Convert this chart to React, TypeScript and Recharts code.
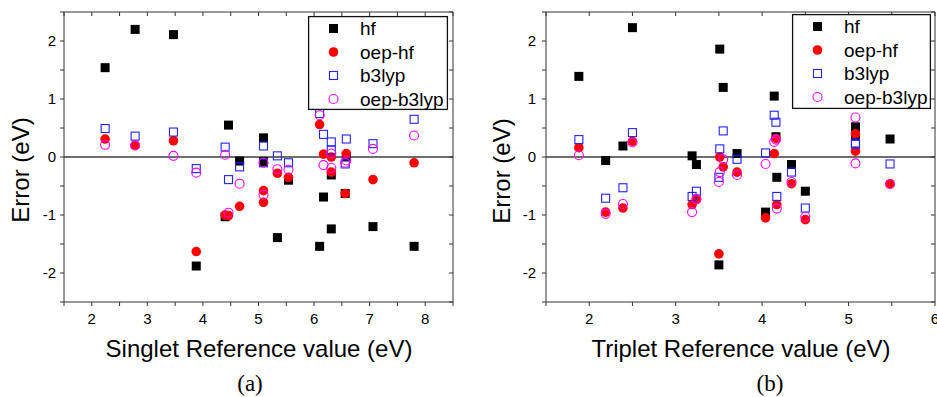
import { ScatterChart, Scatter, XAxis, YAxis, ReferenceLine } from 'recharts';

// singlet panel (a)
const singletRef = [2.24, 2.78, 3.47, 3.88, 4.4, 4.46, 4.66, 5.09, 5.09, 5.34, 5.54, 6.1, 6.17, 6.31, 6.31, 6.56, 6.58, 7.06, 7.8];
const singletHf = [1.54, 2.2, 2.11, -1.88, -1.03, 0.55, -0.07, 0.33, -0.08, -1.39, -0.4, -1.54, -0.69, -1.24, -0.31, -0.63, 0.0, -1.2, -1.54];
const singletOepHf = [0.31, 0.2, 0.28, -1.63, -1.0, -1.01, -0.85, -0.58, -0.78, -0.28, -0.35, 0.56, 0.05, 0.0, -0.26, -0.63, 0.06, -0.39, -0.1];
const singletB3lyp = [0.49, 0.36, 0.43, -0.2, 0.17, -0.39, -0.17, 0.19, -0.1, 0.02, -0.1, 0.75, 0.39, 0.26, 0.12, -0.12, 0.31, 0.23, 0.65];
const singletOepB3lyp = [0.21, 0.2, 0.02, -0.27, 0.04, -0.96, -0.46, -0.65, -0.1, -0.21, -0.22, 0.72, -0.14, 0.06, -0.19, -0.1, -0.06, 0.14, 0.37];

// triplet panel (b)
const tripletRef = [1.88, 2.19, 2.39, 2.5, 3.19, 3.24, 3.5, 3.51, 3.55, 3.71, 4.04, 4.14, 4.16, 4.17, 4.34, 4.5, 5.08, 5.08, 5.48];
const tripletHf = [1.39, -0.06, 0.19, 2.23, 0.02, -0.13, -1.86, 1.86, 1.2, 0.06, -0.95, 1.05, 0.35, -0.35, -0.13, -0.59, 0.52, 0.36, 0.31];
const tripletOepHf = [0.16, -0.95, -0.88, 0.27, -0.82, -0.72, -1.67, 0.0, -0.17, -0.26, -1.05, 0.06, 0.32, -0.82, -0.46, -1.08, 0.4, 0.1, -0.46];
const tripletB3lyp = [0.3, -0.71, -0.53, 0.42, -0.68, -0.59, -0.35, 0.14, 0.45, -0.04, 0.07, 0.72, 0.6, -0.68, -0.26, -0.88, 0.24, 0.22, -0.12];
const tripletOepB3lyp = [0.03, -0.98, -0.81, 0.25, -0.95, -0.73, -0.43, -0.26, -0.04, -0.31, -0.12, 0.26, 0.3, -0.89, -0.43, -1.03, 0.68, -0.11, -0.47];

const singletTicksX = [1.5, 2, 2.5, 3, 3.5, 4, 4.5, 5, 5.5, 6, 6.5, 7, 7.5, 8, 8.5];
const tripletTicksX = [1.5, 2, 2.5, 3, 3.5, 4, 4.5, 5, 5.5, 6];
const ticksY = [-2.5, -2, -1.5, -1, -0.5, 0, 0.5, 1, 1.5, 2, 2.5];

const seriesNames = ['hf', 'oep-hf', 'b3lyp', 'oep-b3lyp'];

const FONT = '"Liberation Sans", Arial, sans-serif';
const AXIS = '#333';

const zip = (xs: number[], ys: number[]) => xs.map((x, i) => ({ x, y: ys[i] }));
const intLabel = (v: number) => (Number.isInteger(v) ? String(v) : '');

const HfShape = (p: any) => <rect x={p.cx - 4.5} y={p.cy - 4.5} width={9} height={9} fill="#000" />;
const OepHfShape = (p: any) => <circle cx={p.cx} cy={p.cy} r={4.8} fill="#ff0000" />;
const B3Shape = (p: any) => (
  <rect x={p.cx - 4} y={p.cy - 4} width={8} height={8} fill="none" stroke="#2222ff" strokeWidth={1.1} />
);
const OepB3Shape = (p: any) => (
  <circle cx={p.cx} cy={p.cy} r={4.5} fill="none" stroke="#ff00ff" strokeWidth={1.1} />
);
const shapes = [HfShape, OepHfShape, B3Shape, OepB3Shape];

const tick = { fontSize: 15, fill: '#000', fontFamily: FONT };

interface PanelProps {
  left: number;
  width: number;
  marginLeft: number;
  marginRight: number;
  xDomain: [number, number];
  xTicks: number[];
  series: number[][];
  xs: number[];
  yTickMargin: number;
}

const Panel = ({ left, width, marginLeft, marginRight, xDomain, xTicks, series, xs, yTickMargin }: PanelProps) => (
  <div style={{ position: 'absolute', left, top: 0 }}>
    <ScatterChart width={width} height={397} margin={{ top: 12, right: marginRight, bottom: 65, left: marginLeft }}>
      <XAxis
        xAxisId="b"
        type="number"
        dataKey="x"
        domain={xDomain}
        ticks={xTicks}
        allowDataOverflow
        tickFormatter={intLabel}
        tick={tick}
        tickSize={4}
        tickMargin={7}
        height={30}
        stroke={AXIS}
        interval={0}
      />
      <XAxis
        xAxisId="t"
        orientation="top"
        type="number"
        dataKey="x"
        domain={xDomain}
        ticks={xTicks}
        allowDataOverflow
        mirror
        tickFormatter={() => ''}
        tickSize={4}
        stroke={AXIS}
        interval={0}
      />
      <YAxis
        yAxisId="l"
        type="number"
        dataKey="y"
        domain={[-2.5, 2.5]}
        ticks={ticksY}
        allowDataOverflow
        tickFormatter={intLabel}
        tick={tick}
        tickSize={4}
        tickMargin={yTickMargin}
        width={40}
        stroke={AXIS}
        interval={0}
      />
      <YAxis
        yAxisId="r"
        orientation="right"
        type="number"
        dataKey="y"
        domain={[-2.5, 2.5]}
        ticks={ticksY}
        allowDataOverflow
        mirror
        tickFormatter={() => ''}
        tickSize={4}
        stroke={AXIS}
        interval={0}
      />
      <ReferenceLine xAxisId="b" yAxisId="l" y={0} stroke="#6e6e6e" strokeWidth={2} />
      {series.map((ys, i) => (
        <Scatter
          key={seriesNames[i]}
          name={seriesNames[i]}
          xAxisId="b"
          yAxisId="l"
          data={zip(xs, ys)}
          shape={shapes[i]}
          isAnimationActive={false}
        />
      ))}
    </ScatterChart>
  </div>
);

const LegendBox = ({ left, top, width, height }: { left: number; top: number; width: number; height: number }) => {
  const rows = [12.5, 36, 59.5, 83];
  return (
    <svg
      style={{ position: 'absolute', left, top, overflow: 'visible' }}
      width={width}
      height={height}
    >
      <rect x={0.6} y={0.6} width={width - 1.2} height={height - 1.2} fill="#fff" stroke="#111" strokeWidth={1.3} />
      {seriesNames.map((n, i) => {
        const Shape = shapes[i];
        return (
          <g key={n}>
            <Shape cx={25.5} cy={rows[i]} />
            <text x={52} y={rows[i] + 6.5} fontSize={19} fontFamily={FONT} fill="#000">
              {n}
            </text>
          </g>
        );
      })}
    </svg>
  );
};

export default function App() {
  return (
    <div style={{ position: 'absolute', left: 0, top: 0, width: 937, height: 397, background: '#fff', overflow: 'hidden' }}>
      <Panel
        left={0}
        width={470}
        marginLeft={24}
        marginRight={17}
        xDomain={[1.5, 8.5]}
        xTicks={singletTicksX}
        xs={singletRef}
        series={[singletHf, singletOepHf, singletB3lyp, singletOepB3lyp]}
        yTickMargin={4}
      />
      <Panel
        left={470}
        width={467}
        marginLeft={36}
        marginRight={2}
        xDomain={[1.5, 6]}
        xTicks={tripletTicksX}
        xs={tripletRef}
        series={[tripletHf, tripletOepHf, tripletB3lyp, tripletOepB3lyp]}
        yTickMargin={6}
      />
      <LegendBox left={308} top={16} width={140} height={94} />
      <LegendBox left={792} top={14} width={139} height={95} />
      <svg style={{ position: 'absolute', left: 0, top: 0, pointerEvents: 'none' }} width={937} height={397}>
        <g fontFamily={FONT} fontSize={24} fill="#000" textAnchor="middle">
          <text transform="translate(29,170) rotate(-90)">Error (eV)</text>
          <text transform="translate(510,171) rotate(-90)">Error (eV)</text>
          <text x={259} y={357}>Singlet Reference value (eV)</text>
          <text x={741} y={357}>Triplet Reference value (eV)</text>
        </g>
        <g fontFamily='"Liberation Serif", "Times New Roman", serif' fontSize={23} fill="#000" textAnchor="middle">
          <text x={250} y={391}>(a)</text>
          <text x={770} y={391}>(b)</text>
        </g>
      </svg>
    </div>
  );
}
